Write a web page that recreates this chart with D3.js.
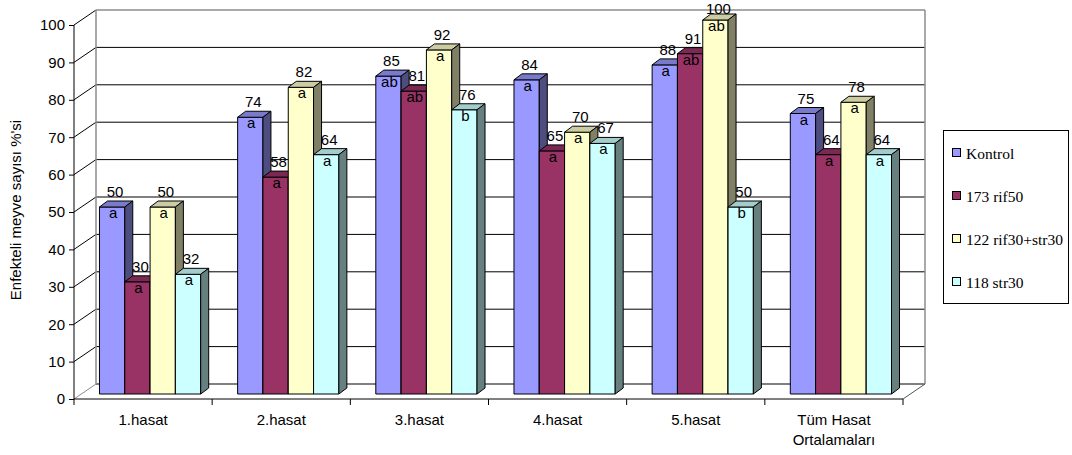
<!DOCTYPE html>
<html>
<head>
<meta charset="utf-8">
<script src="https://cdn.jsdelivr.net/npm/d3@7"></script>
<style>
  html, body { margin: 0; padding: 0; background: #fff; }
  svg { display: block; }
</style>
</head>
<body>
<svg id="chart" width="1072" height="455"></svg>
<script>
// Harvest groups and treatments
const categories = ["1.hasat", "2.hasat", "3.hasat", "4.hasat", "5.hasat", "Tüm Hasat\nOrtalamaları"];
const seriesNames = ["Kontrol", "173 rif50", "122 rif30+str30", "118 str30"];
const seriesColors = ["#9999FF", "#993366", "#FFFFCC", "#CCFFFF"];

// Infected fruit percentage per treatment, one value per harvest group
const kontrol   = [50, 74, 85, 84, 88, 75];
const rif50     = [30, 58, 81, 65, 91, 64];
const rif30str  = [50, 82, 92, 70, 100, 78];
const str30     = [32, 64, 76, 67, 50, 64];

// Significance letters drawn inside each bar
const kontrolLetters  = ["a", "a", "ab", "a", "a", "a"];
const rif50Letters    = ["a", "a", "ab", "a", "ab", "a"];
const rif30strLetters = ["a", "a", "a", "a", "ab", "a"];
const str30Letters    = ["a", "a", "b", "a", "b", "a"];

const yTicks = [0, 10, 20, 30, 40, 50, 60, 70, 80, 90, 100];
const yTitle = "Enfekteli meyve sayısı %'si";

const values = [kontrol, rif50, rif30str, str30];
const letters = [kontrolLetters, rif50Letters, rif30strLetters, str30Letters];

const svg = d3.select("#chart");
const sans = "'Liberation Sans', Arial, sans-serif";
const serif = "'Liberation Serif', 'Times New Roman', serif";

// Front plane of the 3-D box
const x0 = 74, x1 = 903;
const y = d3.scaleLinear().domain([0, 100]).range([399, 25]);
const x = d3.scaleBand().domain(categories).range([x0, x1]).paddingInner(0).paddingOuter(0);
const inner = d3.scaleBand().domain(d3.range(seriesNames.length)).range([0, x.bandwidth()]).paddingOuter(0.73).paddingInner(0);

// Depth offsets: whole floor, bar front plane, and bar thickness
const wallDx = 22, wallDy = -15;
const barOffX = 7, barOffY = -5;
const barDx = 8, barDy = -6;

const shade = (c, k) => {
  const r = d3.rgb(c);
  return d3.rgb(r.r * k, r.g * k, r.b * k).formatHex();
};

// Back wall gridlines
const grid = svg.append("g");
yTicks.forEach(t => {
  grid.append("line")
    .attr("x1", x0 + wallDx).attr("x2", x1 + wallDx)
    .attr("y1", y(t) + wallDy).attr("y2", y(t) + wallDy)
    .attr("stroke", t === 100 ? "#8c8c8c" : "#000").attr("stroke-width", t === 100 ? 1.5 : 1);
  grid.append("line")
    .attr("x1", x0).attr("x2", x0 + wallDx)
    .attr("y1", y(t)).attr("y2", y(t) + wallDy)
    .attr("stroke", t === 0 ? "#8c8c8c" : "#000").attr("stroke-width", 1);
});
// Wall edges
grid.append("line")
  .attr("x1", x0 + wallDx).attr("x2", x0 + wallDx)
  .attr("y1", y(100) + wallDy).attr("y2", y(0) + wallDy)
  .attr("stroke", "#8c8c8c").attr("stroke-width", 1.5);
grid.append("line")
  .attr("x1", x1 + wallDx).attr("x2", x1 + wallDx)
  .attr("y1", y(100) + wallDy).attr("y2", y(0) + wallDy)
  .attr("stroke", "#8c8c8c").attr("stroke-width", 1.5);
grid.append("line")
  .attr("x1", x1).attr("x2", x1 + wallDx)
  .attr("y1", y(0)).attr("y2", y(0) + wallDy)
  .attr("stroke", "#555").attr("stroke-width", 1);

// Bars
const bars = svg.append("g");
const labels = svg.append("g");
categories.forEach((cat, ci) => {
  values.forEach((vals, si) => {
    const v = vals[ci];
    const xl = x(cat) + inner(si) + barOffX;
    const xr = xl + inner.bandwidth();
    const yb = y(0) + barOffY;
    const yt = y(v) + barOffY;
    const col = seriesColors[si];
    const g = bars.append("g").attr("stroke", "#000").attr("stroke-width", 1).attr("stroke-linejoin", "round");
    // front face
    g.append("rect").attr("x", xl).attr("y", yt).attr("width", xr - xl).attr("height", yb - yt).attr("fill", col);
    // top face
    g.append("path").attr("fill", shade(col, 0.8))
      .attr("d", `M${xl},${yt}L${xl + barDx},${yt + barDy}L${xr + barDx},${yt + barDy}L${xr},${yt}Z`);
    // side face
    g.append("path").attr("fill", shade(col, 0.5))
      .attr("d", `M${xr},${yt}L${xr + barDx},${yt + barDy}L${xr + barDx},${yb + barDy}L${xr},${yb}Z`);

    const cx = (xl + xr) / 2;
    labels.append("text")
      .attr("x", cx + 3).attr("y", Math.max(yt - 10, 14))
      .attr("text-anchor", "middle")
      .attr("font-family", sans).attr("font-size", 15).attr("fill", "#000")
      .text(v);
    labels.append("text")
      .attr("x", cx + 1).attr("y", yt + 11)
      .attr("text-anchor", "middle")
      .attr("font-family", sans).attr("font-size", 15).attr("fill", "#000")
      .text(letters[si][ci]);
  });
});

// Value axis on the front-left edge
const yAxis = svg.append("g").attr("transform", `translate(${x0},0)`)
  .call(d3.axisLeft(y).tickValues(yTicks).tickSize(5).tickPadding(4));
yAxis.select(".domain").attr("stroke", "#000").attr("d", `M0,${y(100)}V${y(0)}`);
yAxis.selectAll(".tick line").attr("stroke", "#000");
yAxis.selectAll("text").attr("font-family", sans).attr("font-size", 15).attr("fill", "#000");

// Category axis along the front floor edge
const xAxis = svg.append("g").attr("transform", `translate(0,${y(0)})`)
  .call(d3.axisBottom(x).tickSize(0).tickFormat(""));
xAxis.select(".domain").attr("stroke", "#000").attr("d", `M${x0},0H${x1}`);
const bounds = categories.map(c => x(c)).concat([x1]);
xAxis.selectAll(".bound").data(bounds).enter().append("line")
  .attr("x1", d => d).attr("x2", d => d).attr("y1", 0).attr("y2", 6)
  .attr("stroke", "#000");
categories.forEach(cat => {
  const lines = cat.split("\n");
  const t = svg.append("text")
    .attr("x", x(cat) + x.bandwidth() / 2).attr("y", 425)
    .attr("text-anchor", "middle")
    .attr("font-family", sans).attr("font-size", 15).attr("fill", "#000");
  lines.forEach((ln, i) => {
    t.append("tspan").attr("x", x(cat) + x.bandwidth() / 2).attr("dy", i === 0 ? 0 : 20).text(ln);
  });
});

// Axis title
svg.append("text")
  .attr("transform", "translate(21,210) rotate(-90)")
  .attr("text-anchor", "middle")
  .attr("font-family", sans).attr("font-size", 15).attr("fill", "#000")
  .text(yTitle);

// Legend
const legend = svg.append("g");
legend.append("rect").attr("x", 943.5).attr("y", 130.5).attr("width", 125).attr("height", 173)
  .attr("fill", "#fff").attr("stroke", "#000").attr("stroke-width", 1);
const ly = d3.scalePoint().domain(seriesNames).range([153, 282]);
seriesNames.forEach((name, i) => {
  legend.append("rect").attr("x", 952.5).attr("y", ly(name) - 4.5).attr("width", 8).attr("height", 8)
    .attr("fill", seriesColors[i]).attr("stroke", "#000").attr("stroke-width", 1);
  legend.append("text").attr("x", 966).attr("y", ly(name) + 5.5)
    .attr("font-family", serif).attr("font-size", 15.5).attr("fill", "#000")
    .text(name);
});
</script>
</body>
</html>
